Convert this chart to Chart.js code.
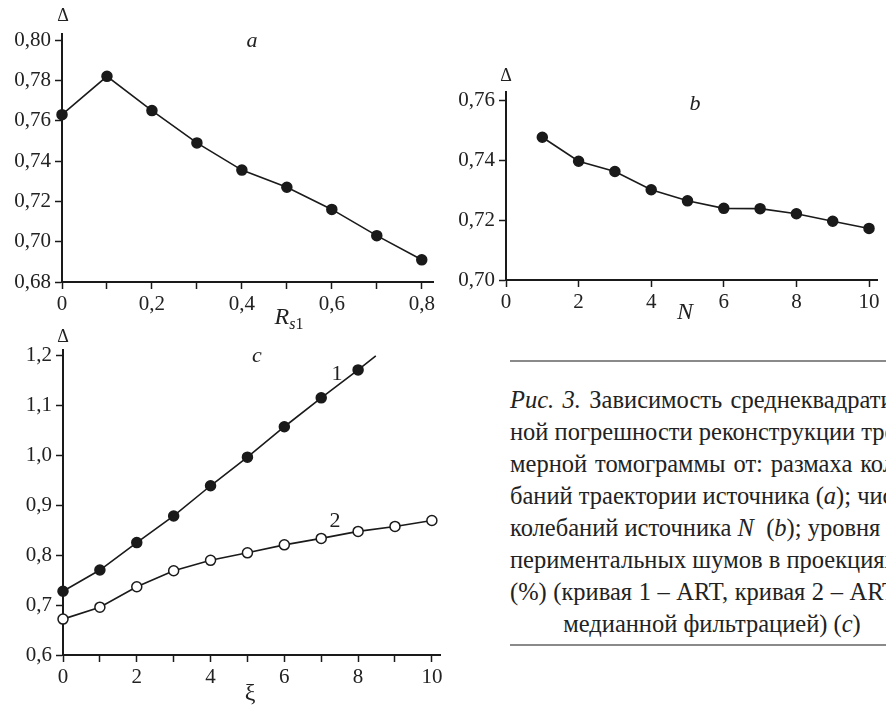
<!DOCTYPE html>
<html>
<head>
<meta charset="utf-8">
<script src="https://cdn.jsdelivr.net/npm/chart.js@4.4.1/dist/chart.umd.min.js"></script>
<style>
  body { margin: 0; width: 886px; height: 705px; overflow: hidden; background: #fff; position: relative;
         font-family: "Liberation Serif", "Times New Roman", "DejaVu Serif", serif; color: #222; }
  canvas { position: absolute; }
  .t { position: absolute; line-height: 1; transform: translate(-50%, -50%); white-space: nowrap; font-size: 20px; }
  .i { font-style: italic; }
  .rule { position: absolute; left: 510px; width: 400px; height: 2px; background: #8a8a8a; }
  #caption { position: absolute; left: 510px; top: 384px; width: 404px; font-size: 24.5px; line-height: 32px; }
  #caption div { text-align: justify; text-align-last: justify; white-space: nowrap; }
  #caption div.last { text-align: center; text-align-last: center; }
</style>
</head>
<body>
<canvas id="chartA" width="440" height="330" style="left:0;top:0"></canvas>
<canvas id="chartB" width="446" height="270" style="left:440px;top:60px"></canvas>
<canvas id="chartC" width="460" height="375" style="left:0;top:330px"></canvas>

<span class="t" style="left:63px;top:15px;font-size:18px">Δ</span>
<span class="t i" style="left:252px;top:40px;font-size:22px">a</span>
<span class="t" style="left:289px;top:318px;font-size:24px"><i>R</i><sub style="font-size:16px"><i>s</i>1</sub></span>

<span class="t" style="left:506px;top:75px;font-size:18px">Δ</span>
<span class="t i" style="left:695px;top:103px;font-size:22px">b</span>
<span class="t i" style="left:685px;top:311px;font-size:24px">N</span>

<span class="t" style="left:63px;top:336px;font-size:18px">Δ</span>
<span class="t i" style="left:257px;top:355px;font-size:22px">c</span>
<span class="t" style="left:250px;top:692px;font-size:24px">ξ</span>
<span class="t" style="left:337px;top:373px;font-size:22px">1</span>
<span class="t" style="left:335px;top:520px;font-size:22px">2</span>

<div class="rule" style="top:360px"></div>
<div id="caption">
  <div><i>Рис. 3.</i> Зависимость среднеквадратич-</div>
  <div>ной погрешности реконструкции трех-</div>
  <div>мерной томограммы от: размаха коле-</div>
  <div>баний траектории источника (<i>a</i>); числа</div>
  <div>колебаний источника <i>N</i>&nbsp; (<i>b</i>); уровня экс-</div>
  <div>периментальных шумов в проекциях ξ</div>
  <div>(%) (кривая 1 – ART, кривая 2 – ART с</div>
  <div class="last">медианной фильтрацией) (<i>c</i>)</div>
</div>
<div class="rule" style="top:644px"></div>

<script>
// a: Δ от размаха колебаний R_s1
const aX = [0, 0.1, 0.2, 0.3, 0.4, 0.5, 0.6, 0.7, 0.8];
const aY = [0.763, 0.782, 0.765, 0.749, 0.7355, 0.727, 0.716, 0.703, 0.691];
const aXTicks = [0, 0.1, 0.2, 0.3, 0.4, 0.5, 0.6, 0.7, 0.8];
const aXLabels = ['0', '', '0,2', '', '0,4', '', '0,6', '', '0,8'];
const aYTicks = [0.68, 0.70, 0.72, 0.74, 0.76, 0.78, 0.80];
const aYLabels = ['0,68', '0,70', '0,72', '0,74', '0,76', '0,78', '0,80'];

// b: Δ от числа колебаний N
const bX = [1, 2, 3, 4, 5, 6, 7, 8, 9, 10];
const bY = [0.7476, 0.7396, 0.7362, 0.7301, 0.7264, 0.7239, 0.7238, 0.7221, 0.7196, 0.7172];
const bXTicks = [0, 2, 4, 6, 8, 10];
const bXLabels = ['0', '2', '4', '6', '8', '10'];
const bYTicks = [0.70, 0.72, 0.74, 0.76];
const bYLabels = ['0,70', '0,72', '0,74', '0,76'];

// c: Δ от уровня шумов ξ (кривая 1 – ART, кривая 2 – ART с медианной фильтрацией)
const c1X = [0, 1, 2, 3, 4, 5, 6, 7, 8, 8.48];
const c1Y = [0.728, 0.7705, 0.8255, 0.879, 0.9396, 0.997, 1.058, 1.116, 1.172, 1.2];
const c2X = [0, 1, 2, 3, 4, 5, 6, 7, 8, 9, 10];
const c2Y = [0.672, 0.696, 0.737, 0.769, 0.790, 0.805, 0.821, 0.834, 0.848, 0.858, 0.870];
const cXTicks = [0, 1, 2, 3, 4, 5, 6, 7, 8, 9, 10];
const cXLabels = ['0', '', '2', '', '4', '', '6', '', '8', '', '10'];
const cYTicks = [0.6, 0.7, 0.8, 0.9, 1.0, 1.1, 1.2];
const cYLabels = ['0,6', '0,7', '0,8', '0,9', '1,0', '1,1', '1,2'];

const INK = '#1a1a1a';
const FONT = { family: '"Liberation Serif", "Times New Roman", serif', size: 21 };

function points(xs, ys) {
    return xs.map((x, i) => ({ x: x, y: ys[i] }));
}

function series(xs, ys, filled) {
    return {
        data: points(xs, ys),
        showLine: true,
        borderColor: INK,
        borderWidth: 1.6,
        pointRadius: xs.map((x, i) => (filled === 'end-open' && i === xs.length - 1) ? 0 : 5),
        pointBackgroundColor: filled === false ? '#fff' : INK,
        pointBorderColor: INK,
        pointBorderWidth: 1.5,
        clip: false
    };
}

function axis(min, max, tickVals, labels, size, isX) {
    return {
        type: 'linear',
        min: min,
        max: max,
        afterBuildTicks: sc => { sc.ticks = tickVals.map(v => ({ value: v })); },
        afterFit: sc => { if (isX) sc.height = size; else sc.width = size; },
        ticks: {
            autoSkip: false,
            maxRotation: 0,
            padding: isX ? 3 : 4,
            color: '#222',
            font: FONT,
            callback: (v, i) => labels[i]
        },
        grid: {
            display: true,
            drawOnChartArea: false,
            drawTicks: true,
            tickLength: 7,
            tickWidth: 1.5,
            tickColor: INK
        },
        border: { display: true, color: INK, width: 2 }
    };
}

function panel(id, datasets, x, y, pad) {
    return new Chart(document.getElementById(id), {
        type: 'scatter',
        data: { datasets: datasets },
        options: {
            responsive: false,
            animation: false,
            devicePixelRatio: 1,
            layout: { padding: pad },
            plugins: { legend: { display: false }, tooltip: { enabled: false } },
            scales: { x: x, y: y }
        }
    });
}

panel('chartA',
    [series(aX, aY, true)],
    axis(0, 0.825, aXTicks, aXLabels, 48, true),
    axis(0.68, 0.803, aYTicks, aYLabels, 62, false),
    { top: 34, right: 7, left: 0, bottom: 0 });

panel('chartB',
    [series(bX, bY, true)],
    axis(0, 10.22, bXTicks, bXLabels, 50, true),
    axis(0.70, 0.7627, bYTicks, bYLabels, 66, false),
    { top: 32, right: 9, left: 0, bottom: 0 });

panel('chartC',
    [series(c1X, c1Y, 'end-open'), series(c2X, c2Y, false)],
    axis(0, 10.22, cXTicks, cXLabels, 50, true),
    axis(0.6, 1.212, cYTicks, cYLabels, 63, false),
    { top: 20, right: 20, left: 0, bottom: 0 });
</script>
</body>
</html>
